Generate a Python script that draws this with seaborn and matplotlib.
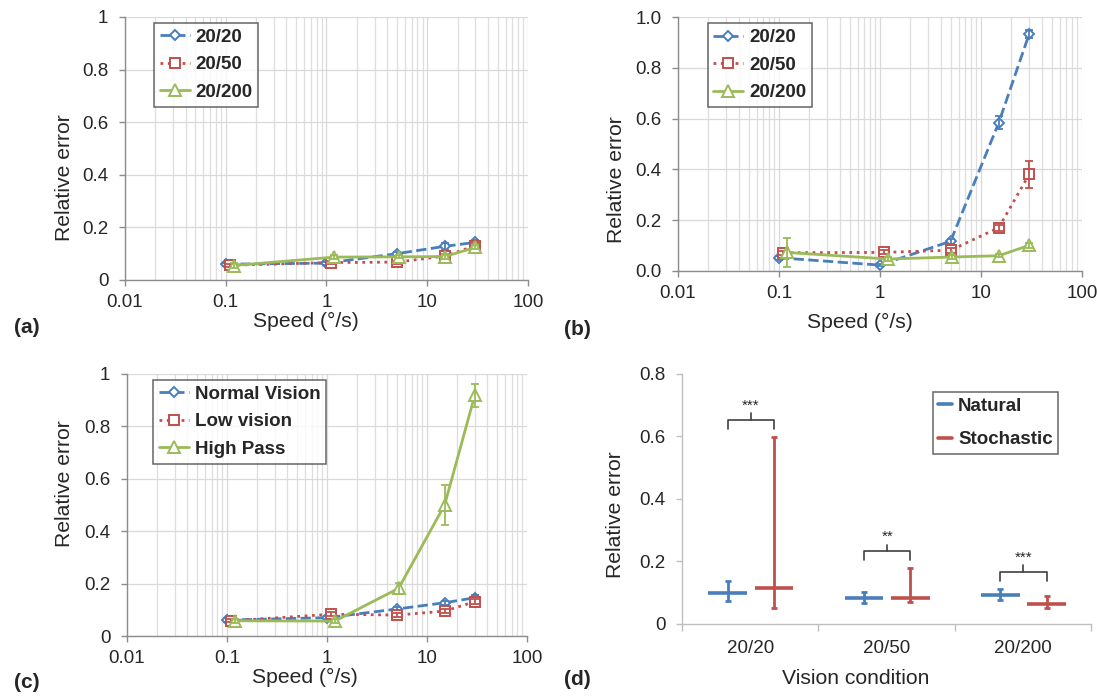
import numpy as np
import pandas as pd
import matplotlib
matplotlib.use("Agg")
import matplotlib.pyplot as plt
import seaborn as sns
from matplotlib.ticker import FuncFormatter, NullFormatter, LogLocator
from matplotlib.lines import Line2D

# cores no estilo Excel
AZUL = "#4A7EBB"
VERMELHO = "#C0504D"
VERDE = "#9BBB59"
CINZA = "#8c8c8c"

# ---- dados ----
# velocidades (ligeiramente deslocadas por serie, como no original)
vel_1 = [0.1, 1, 5, 15, 30]
vel_2 = [0.11, 1.1, 5.05, 15, 30]
vel_3 = [0.12, 1.2, 5.2, 15, 30]

# (a) visao simulada
a_nomes = ["20/20", "20/50", "20/200"]
a_2020 = [0.060, 0.064, 0.100, 0.128, 0.143]
a_2050 = [0.056, 0.066, 0.068, 0.091, 0.130]
a_20200 = [0.055, 0.087, 0.088, 0.089, 0.124]
a_err_2020 = [0.006, 0.006, 0.008, 0.014, 0.010]
a_err_2050 = [0.006, 0.006, 0.006, 0.008, 0.010]
a_err_20200 = [0.010, 0.008, 0.006, 0.008, 0.008]

# (b)
b_2020 = [0.051, 0.022, 0.116, 0.584, 0.934]
b_2050 = [0.071, 0.072, 0.081, 0.170, 0.380]
b_20200 = [0.072, 0.046, 0.054, 0.059, 0.100]
b_err_2020 = [0.008, 0.005, 0.010, 0.025, 0.015]
b_err_2050 = [0.008, 0.008, 0.010, 0.012, 0.053]
b_err_20200 = [0.056, 0.008, 0.006, 0.006, 0.010]

# (c)
c_nomes = ["Normal Vision", "Low vision", "High Pass"]
c_normal = [0.061, 0.070, 0.103, 0.127, 0.146]
c_baixa = [0.058, 0.083, 0.080, 0.095, 0.131]
c_passa_alta = [0.058, 0.057, 0.182, 0.500, 0.918]
c_err_normal = [0.006, 0.006, 0.008, 0.008, 0.010]
c_err_baixa = [0.006, 0.008, 0.006, 0.008, 0.010]
c_err_passa_alta = [0.008, 0.008, 0.022, 0.075, 0.044]

# (d) condicoes de visao
d_cond = ["20/20", "20/50", "20/200"]
d_grupos = ["Natural", "Stochastic"]
d_nat_media = [0.097, 0.081, 0.092]
d_nat_min = [0.073, 0.065, 0.076]
d_nat_max = [0.136, 0.100, 0.110]
d_est_media = [0.115, 0.081, 0.062]
d_est_min = [0.051, 0.068, 0.051]
d_est_max = [0.597, 0.178, 0.089]
d_sig = ["***", "**", "***"]
d_sig_altura = [0.652, 0.231, 0.165]

sns.set_theme(style="white")
plt.rcParams["font.family"] = ["Liberation Sans", "DejaVu Sans"]

fig = plt.figure(figsize=(10.97, 6.98), dpi=100)


def painel_velocidade(ax, series, yfmt):
    for nome, xs, ys, es, cor, marc, ls, ms in series:
        sns.lineplot(x=xs, y=ys, ax=ax, color=cor, marker=marc, linestyle=ls,
                     linewidth=2, markersize=ms, markerfacecolor="white",
                     markeredgecolor=cor, markeredgewidth=1.4, label=nome,
                     errorbar=None, sort=False)
        ax.errorbar(xs, ys, yerr=es, fmt="none", ecolor=cor, elinewidth=1.3,
                    capsize=3, capthick=1.3)
    ax.set_xscale("log")
    ax.set_xlim(0.01, 100)
    ax.set_ylim(0, 1)
    ax.set_yticks(np.arange(0, 1.01, 0.2))
    ax.yaxis.set_major_formatter(FuncFormatter(yfmt))
    ax.xaxis.set_major_formatter(FuncFormatter(lambda v, p: f"{v:g}"))
    ax.xaxis.set_minor_locator(LogLocator(base=10, subs=np.arange(2, 10)))
    ax.xaxis.set_minor_formatter(NullFormatter())
    ax.grid(True, which="major", color="#d9d9d9", lw=0.9)
    ax.grid(True, which="minor", axis="x", color="#dedede", lw=0.9)
    ax.set_axisbelow(True)
    for s in ["top", "right"]:
        ax.spines[s].set_visible(False)
    for s in ["left", "bottom"]:
        ax.spines[s].set_color(CINZA)
        ax.spines[s].set_linewidth(1)
    ax.tick_params(which="major", direction="out", length=4, width=1,
                   color=CINZA, labelsize=13.5, left=True, bottom=True)
    ax.tick_params(axis="x", which="major", pad=6)
    ax.tick_params(axis="y", which="major", pad=8)
    ax.tick_params(which="minor", length=0)
    ax.set_xlabel("Speed (°/s)", fontsize=15.2)
    ax.set_ylabel("Relative error", fontsize=15.2)
    handles, labels = ax.get_legend_handles_labels()
    return handles, labels


def legenda(ax, handles, labels, anchor, loc="upper left", hl=1.6, ls=0.56):
    leg = ax.legend(handles, labels, loc=loc, bbox_to_anchor=anchor,
                    frameon=True, fancybox=False, edgecolor="#404040",
                    prop=dict(weight="bold", size=13.5), handlelength=hl,
                    borderpad=0.3, labelspacing=ls, handletextpad=0.3,
                    borderaxespad=0)
    leg.get_frame().set_linewidth(1.1)
    return leg


fmt_geral = lambda v, p: f"{v:g}"
fmt_1dec = lambda v, p: f"{v:.1f}"

# ---- (a) ----
ax_a = fig.add_axes([0.1139, 0.5989, 0.3674, 0.3768])
h, l = painel_velocidade(ax_a, [
    (a_nomes[0], vel_1, a_2020, a_err_2020, AZUL, "D", "--", 5.5),
    (a_nomes[1], vel_2, a_2050, a_err_2050, VERMELHO, "s", ":", 7),
    (a_nomes[2], vel_3, a_20200, a_err_20200, VERDE, "^", "-", 8),
], fmt_geral)
legenda(ax_a, h, l, (0.072, 0.977))
ax_a.xaxis.set_label_coords(0.449, -0.122)
ax_a.yaxis.set_label_coords(-0.127, 0.39)

# ---- (b) ----
ax_b = fig.add_axes([0.618, 0.6122, 0.3683, 0.363])
h, l = painel_velocidade(ax_b, [
    (a_nomes[0], vel_1, b_2020, b_err_2020, AZUL, "D", "--", 5.5),
    (a_nomes[1], vel_2, b_2050, b_err_2050, VERMELHO, "s", ":", 7),
    (a_nomes[2], vel_3, b_20200, b_err_20200, VERDE, "^", "-", 8),
], fmt_1dec)
legenda(ax_b, h, l, (0.074, 0.976))
ax_b.xaxis.set_label_coords(0.45, -0.167)
ax_b.yaxis.set_label_coords(-0.129, 0.358)

# ---- (c) ----
ax_c = fig.add_axes([0.1158, 0.0888, 0.3646, 0.3754])
h, l = painel_velocidade(ax_c, [
    (c_nomes[0], vel_1, c_normal, c_err_normal, AZUL, "D", "--", 5.5),
    (c_nomes[1], vel_2, c_baixa, c_err_baixa, VERMELHO, "s", ":", 7),
    (c_nomes[2], vel_3, c_passa_alta, c_err_passa_alta, VERDE, "^", "-", 8),
], fmt_geral)
legenda(ax_c, h, l, (0.066, 0.977))
ax_c.xaxis.set_label_coords(0.445, -0.122)
ax_c.yaxis.set_label_coords(-0.1325, 0.58)

# ---- (d) ----
ax_d = fig.add_axes([0.6217, 0.1067, 0.3728, 0.3575])
pos = np.arange(len(d_cond))
grupos = [
    (d_grupos[0], -0.165, d_nat_media, d_nat_min, d_nat_max, AZUL),
    (d_grupos[1], 0.175, d_est_media, d_est_min, d_est_max, VERMELHO),
]
for nome, desl, media, mn, mx, cor in grupos:
    media = np.array(media)
    xs = pos + desl
    ax_d.hlines(media, xs - 0.142, xs + 0.142, color=cor, lw=2.6)
    ax_d.errorbar(xs, media, yerr=[media - np.array(mn), np.array(mx) - media],
                  fmt="none", ecolor=cor, elinewidth=2, capsize=2.5, capthick=2)

for i, (txt, alt) in enumerate(zip(d_sig, d_sig_altura)):
    x1, x2 = i - 0.165, i + 0.175
    xm = (x1 + x2) / 2
    ax_d.plot([x1, x1, x2, x2], [alt - 0.028, alt, alt, alt - 0.028],
              color="#404040", lw=1.2)
    ax_d.plot([xm, xm], [alt, alt + 0.022], color="#404040", lw=1.2)
    ax_d.text(xm, alt + 0.024, txt, ha="center", va="bottom", fontsize=11)

ax_d.set_xlim(-0.5, 2.5)
ax_d.set_ylim(0, 0.8)
ax_d.set_xticks(pos)
ax_d.set_xticklabels(d_cond)
ax_d.set_xticks([-0.5, 0.5, 1.5, 2.5], minor=True)
ax_d.set_yticks(np.arange(0, 0.81, 0.2))
ax_d.yaxis.set_major_formatter(FuncFormatter(fmt_geral))
for s in ["top", "right"]:
    ax_d.spines[s].set_visible(False)
for s in ["left", "bottom"]:
    ax_d.spines[s].set_color("#bfbfbf")
    ax_d.spines[s].set_linewidth(1)
ax_d.tick_params(axis="x", which="major", length=0, labelsize=13.5, pad=12)
ax_d.tick_params(axis="x", which="minor", length=5, width=1, color="#bfbfbf",
                 direction="out", bottom=True)
ax_d.tick_params(axis="y", which="major", length=4, width=1, color="#bfbfbf",
                 direction="out", labelsize=13.5, pad=8, left=True)
ax_d.set_xlabel("Vision condition", fontsize=15.2)
ax_d.set_ylabel("Relative error", fontsize=15.2)
ax_d.xaxis.set_label_coords(0.425, -0.182)
ax_d.yaxis.set_label_coords(-0.139, 0.435)
h_d = [Line2D([0], [0], color=AZUL, lw=2.6), Line2D([0], [0], color=VERMELHO, lw=2.6)]
leg = legenda(ax_d, h_d, d_grupos, (0.92, 0.928), loc="upper right", hl=0.75, ls=0.87)
leg._legend_box.align = "left"

# rotulos dos paineis
for txt, x, y in [("(a)", 0.0128, 0.5315), ("(b)", 0.514, 0.5286),
                  ("(c)", 0.0128, 0.0215), ("(d)", 0.514, 0.0258)]:
    fig.text(x, y, txt, fontsize=15, fontweight="bold", ha="left", va="center")

fig.savefig("out.png", dpi=100)
